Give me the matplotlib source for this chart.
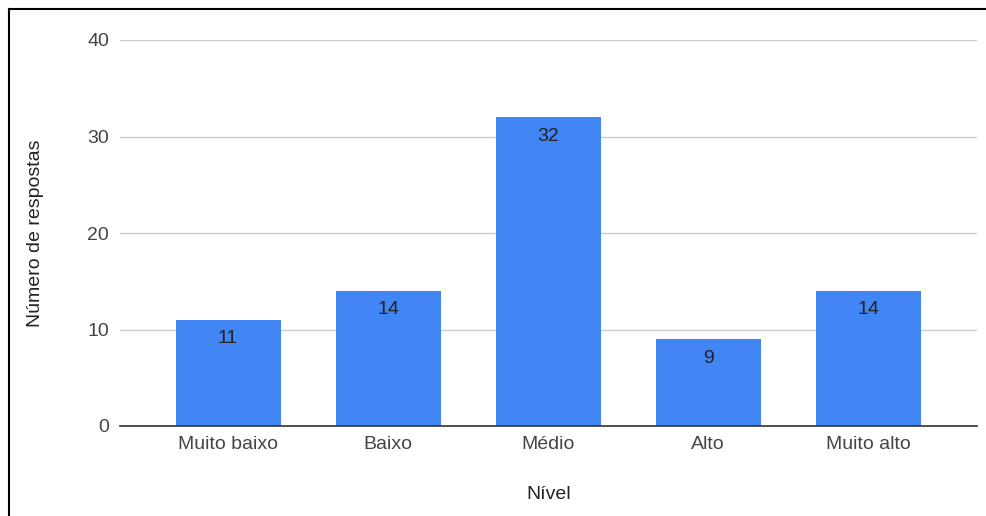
import matplotlib.pyplot as plt
from matplotlib.lines import Line2D

# Dados
niveis = ['Muito baixo', 'Baixo', 'Médio', 'Alto', 'Muito alto']
respostas = [11, 14, 32, 9, 14]
y_ticks = [0, 10, 20, 30, 40]

plt.rcParams['font.family'] = ['Liberation Sans', 'DejaVu Sans']

fig = plt.figure(figsize=(9.86, 5.16), dpi=100)
ax = fig.add_axes([120 / 986, 1 - 426 / 516, 857 / 986, 386 / 516])

x = range(len(niveis))
bars = ax.bar(x, respostas, width=0.656, color='#4285F4', zorder=3)

for bar, v in zip(bars, respostas):
    ax.annotate(str(v), xy=(bar.get_x() + bar.get_width() / 2, v),
                xytext=(0, -7.5), textcoords='offset points',
                ha='center', va='top', fontsize=14, color='#222222', zorder=4)

ax.set_xlim(-0.675, 4.68)
ax.set_ylim(0, 40)
ax.set_yticks(y_ticks)
ax.set_xticks(list(x))
ax.set_xticklabels(niveis)
ax.grid(axis='y', color='#cccccc', linewidth=1, zorder=0)
for s in ['top', 'right', 'left']:
    ax.spines[s].set_visible(False)
ax.spines['bottom'].set_color('#333333')
ax.spines['bottom'].set_linewidth(1.2)
ax.spines['bottom'].set_zorder(5)
ax.tick_params(axis='both', length=0, labelsize=14, labelcolor='#444444')
ax.tick_params(axis='y', pad=8)
ax.tick_params(axis='x', pad=7)

ax.set_ylabel('Número de respostas', fontsize=14, color='#222222', labelpad=31)
ax.set_xlabel('Nível', fontsize=14, color='#222222', labelpad=24)

# moldura da figura (esquerda e topo)
fig.add_artist(Line2D([8.5 / 986, 8.5 / 986], [0, 1 - 9 / 516], color='black', linewidth=1.5))
fig.add_artist(Line2D([8.5 / 986, 1], [1 - 9 / 516, 1 - 9 / 516], color='black', linewidth=1.5))

fig.savefig('out.png', dpi=100)
